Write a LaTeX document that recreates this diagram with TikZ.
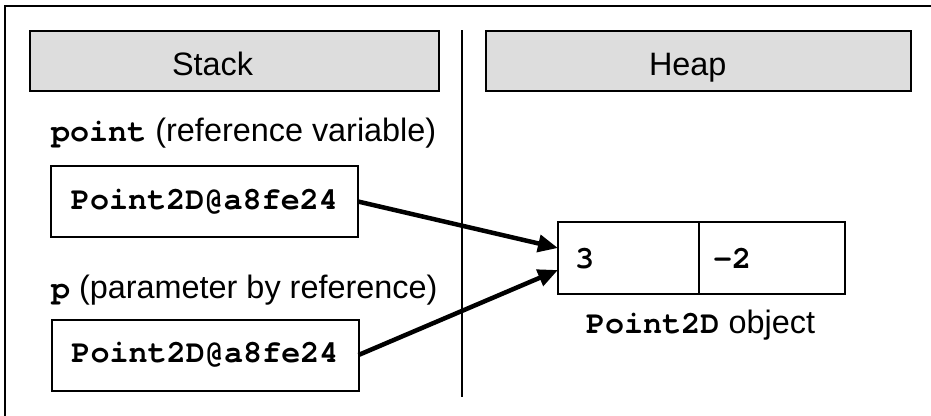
\documentclass[tikz,border=0pt]{standalone}
\usepackage{fontspec}
\setmainfont{Liberation Sans}
\setmonofont{TeX Gyre Cursor}
\usetikzlibrary{arrows.meta}
\definecolor{hdrgray}{RGB}{221,221,221}
\begin{document}
\begin{tikzpicture}[x=1pt,y=-1pt,
  every node/.style={font=\fontsize{32.4}{38}\selectfont, inner sep=0pt, outer sep=0pt},
  header/.style={draw=black, line width=2pt, fill=hdrgray, minimum width=#1, minimum height=60},
  valbox/.style={draw=black, line width=2pt, minimum width=307, minimum height=71, font=\fontsize{31.8}{38}\selectfont\ttfamily\bfseries},
  cell/.style={draw=black, line width=2pt, minimum height=72, minimum width=#1},
  lbl/.style={anchor=base west},
  code/.style={font=\fontsize{31.8}{38}\selectfont\ttfamily\bfseries},
  ptr/.style={line width=4.5pt, -{Triangle[length=20pt,width=17pt]}}
]
\useasboundingbox (0,0) rectangle (931,415);
% outer frame (clipped)
\draw[line width=2pt] (5,420) -- (5,6) -- (940,6);
% divider
\draw[line width=1.5pt] (462,30) -- (462,397);
% headers
\node[header=409] (stackhdr) at (234.5,61) {};
\node[lbl] (stacktxt) at (172,75) {Stack};
\node[header=425] (heaphdr) at (698.5,61) {};
\node[lbl] (heaptxt) at (649,75) {Heap};
% labels
\node[lbl] (lblpoint) at (51,141) {{\fontsize{31.8}{38}\selectfont\ttfamily\bfseries point} (reference variable)};
\node[lbl] (lblp) at (51,298) {{\fontsize{31.8}{38}\selectfont\ttfamily\bfseries p} (parameter by reference)};
% value boxes
\node[valbox] (box1) at (204.5,201.5) {Point2D@a8fe24};
\node[valbox] (box2) at (205,355) {Point2D@a8fe24};
% heap object
\node[cell=141] (cellx) at (628.5,258) {};
\node[cell=146] (celly) at (772,258) {};
\node[lbl,code] (valx) at (575,268) {3};
\node[lbl,code] (valy) at (713,268) {-2};
\node[lbl] (objlbl) at (586,333) {{\fontsize{31.8}{38}\selectfont\ttfamily\bfseries Point2D} object};
% pointers
\coordinate (in1) at (558,248);
\coordinate (in2) at (558,270);
\draw[ptr] (box1.east) -- (in1);
\draw[ptr] (box2.east) -- (in2);
\end{tikzpicture}
\end{document}
